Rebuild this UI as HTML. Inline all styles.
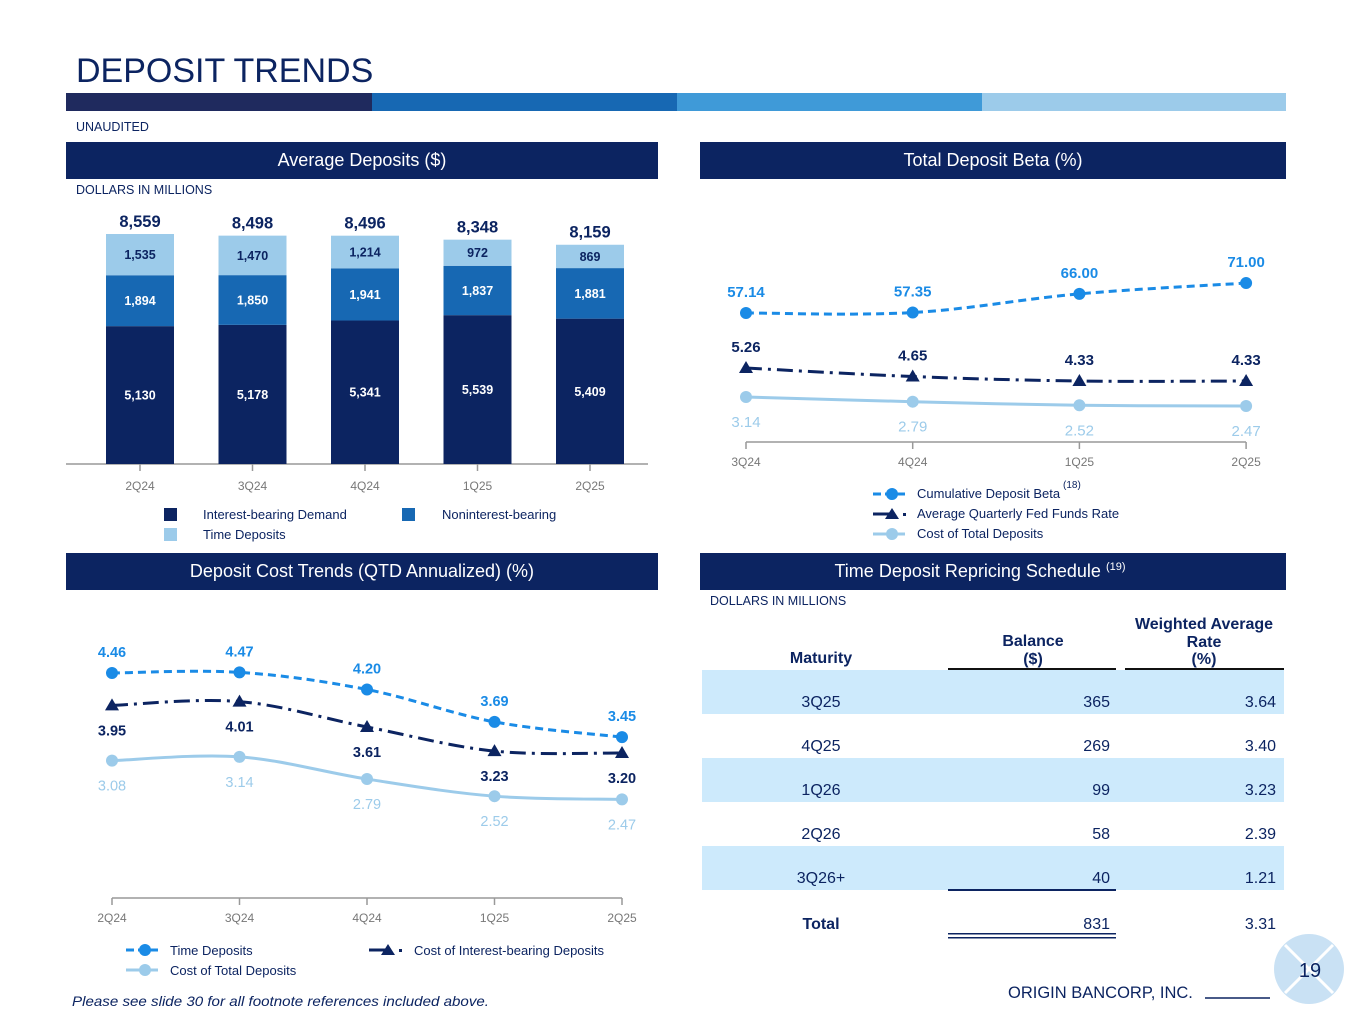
<!DOCTYPE html>
<html><head><meta charset="utf-8">
<style>
body{margin:0;background:#fff;}
svg{display:block;font-family:"Liberation Sans",Arial,sans-serif;}
</style></head>
<body>
<svg id="s" width="1365" height="1024" viewBox="0 0 1365 1024" xmlns="http://www.w3.org/2000/svg">
<text x="76" y="82" font-size="34" fill="#0c2461">DEPOSIT TRENDS</text>
<g>
<rect x="66" y="93" width="306" height="18" fill="#1f2a5e"/>
<rect x="372" y="93" width="305" height="18" fill="#1768b3"/>
<rect x="677" y="93" width="305" height="18" fill="#3f9ad8"/>
<rect x="982" y="93" width="304" height="18" fill="#9ccbea"/>
</g>
<text x="76" y="131" font-size="12.5" fill="#0c2461">UNAUDITED</text>

<rect x="66" y="142" width="592" height="37" fill="#0c2461"/>
<text x="362" y="166" font-size="18" fill="#fff" text-anchor="middle">Average Deposits ($)</text>
<rect x="700" y="142" width="586" height="37" fill="#0c2461"/>
<text x="993" y="166" font-size="18" fill="#fff" text-anchor="middle">Total Deposit Beta (%)</text>
<rect x="66" y="553" width="592" height="37" fill="#0c2461"/>
<text x="362" y="577" font-size="18" fill="#fff" text-anchor="middle">Deposit Cost Trends (QTD Annualized) (%)</text>
<rect x="700" y="553" width="586" height="37" fill="#0c2461"/>
<text x="980" y="577" font-size="18" fill="#fff" text-anchor="middle">Time Deposit Repricing Schedule <tspan font-size="11" dy="-7">(19)</tspan></text>

<text x="76" y="194" font-size="12.5" fill="#0c2461">DOLLARS IN MILLIONS</text>
<text x="710" y="605" font-size="12.5" fill="#0c2461">DOLLARS IN MILLIONS</text>

<g id="bars"></g>
<g id="beta"></g>
<g id="cost"></g>

<g font-size="13" fill="#0c2461">
<rect x="164" y="508" width="13" height="13" fill="#0c2461"/><text x="203" y="519">Interest-bearing Demand</text>
<rect x="402" y="508" width="13" height="13" fill="#1768b3"/><text x="442" y="519">Noninterest-bearing</text>
<rect x="164" y="528" width="13" height="13" fill="#9ccbea"/><text x="203" y="539">Time Deposits</text>
</g>
<g font-size="13" fill="#0c2461">
<line x1="873" y1="494" x2="905" y2="494" stroke="#1a8be6" stroke-width="3" stroke-dasharray="8,4"/><circle cx="892" cy="494" r="6" fill="#1a8be6"/>
<text x="917" y="498">Cumulative Deposit Beta</text><text x="1063" y="488" font-size="10">(18)</text>
<line x1="873" y1="514" x2="895" y2="514" stroke="#0c2461" stroke-width="3"/><polygon points="892,508 899,519 885,519" fill="#0c2461"/><rect x="903" y="513" width="3" height="3" fill="#0c2461"/>
<text x="917" y="518">Average Quarterly Fed Funds Rate</text>
<line x1="873" y1="534" x2="905" y2="534" stroke="#9ccbea" stroke-width="3"/><circle cx="892" cy="534" r="6" fill="#9ccbea"/>
<text x="917" y="538">Cost of Total Deposits</text>
</g>
<g font-size="13" fill="#0c2461">
<line x1="126" y1="950" x2="158" y2="950" stroke="#1a8be6" stroke-width="3" stroke-dasharray="8,4"/><circle cx="145" cy="950" r="6" fill="#1a8be6"/>
<text x="170" y="955">Time Deposits</text>
<line x1="369" y1="950" x2="391" y2="950" stroke="#0c2461" stroke-width="3"/><polygon points="388,944 395,955 381,955" fill="#0c2461"/><rect x="399" y="949" width="3" height="3" fill="#0c2461"/>
<text x="414" y="955">Cost of Interest-bearing Deposits</text>
<line x1="126" y1="970" x2="158" y2="970" stroke="#9ccbea" stroke-width="3"/><circle cx="145" cy="970" r="6" fill="#9ccbea"/>
<text x="170" y="975">Cost of Total Deposits</text>
</g>

<g fill="#0c2461" font-size="16">
<text x="821" y="663" text-anchor="middle" font-weight="bold">Maturity</text>
<text x="1033" y="646" text-anchor="middle" font-weight="bold">Balance</text>
<text x="1033" y="664" text-anchor="middle" font-weight="bold">($)</text>
<text x="1204" y="629" text-anchor="middle" font-weight="bold">Weighted Average</text>
<text x="1204" y="647" text-anchor="middle" font-weight="bold">Rate</text>
<text x="1204" y="664" text-anchor="middle" font-weight="bold">(%)</text>
<rect x="948" y="668" width="168" height="2" fill="#111"/>
<rect x="1125" y="668" width="159" height="2" fill="#111"/>
<g id="tbl"></g>
<rect x="948" y="889" width="168" height="2" fill="#0c2461"/>
<text x="821" y="929" text-anchor="middle" font-weight="bold">Total</text>
<text x="1110" y="929" text-anchor="end">831</text>
<text x="1276" y="929" text-anchor="end">3.31</text>
<rect x="948" y="933" width="168" height="1.5" fill="#0c2461"/>
<rect x="948" y="937" width="168" height="1.5" fill="#0c2461"/>
</g>

<text x="72" y="1006" font-size="14" font-style="italic" fill="#0c2461" textLength="417" lengthAdjust="spacingAndGlyphs">Please see slide 30 for all footnote references included above.</text>
<text x="1008" y="998" font-size="16.5" fill="#0c2461">ORIGIN BANCORP, INC.</text>
<line x1="1205" y1="998" x2="1270" y2="998" stroke="#0c2461" stroke-width="1.5"/>
<g>
<circle cx="1309" cy="969" r="35" fill="#c9e1f4"/>
<line x1="1285" y1="945" x2="1333" y2="993" stroke="#fff" stroke-width="3"/>
<line x1="1333" y1="945" x2="1285" y2="993" stroke="#fff" stroke-width="3"/>
<text x="1310" y="977" font-size="20" fill="#0c2461" text-anchor="middle">19</text>
</g>
</svg>
<script>
const NS="http://www.w3.org/2000/svg";
function mk(p,t,a,txt){const e=document.createElementNS(NS,t);for(const k in a)e.setAttribute(k,a[k]);if(txt!==undefined)e.textContent=txt;p.appendChild(e);return e;}
const fmt=v=>v.toLocaleString('en-US');

// ---- Average deposits
const barCats=["2Q24","3Q24","4Q24","1Q25","2Q25"];
const ibDemand=[5130,5178,5341,5539,5409];
const nonIB=[1894,1850,1941,1837,1881];
const timeDep=[1535,1470,1214,972,869];
const barTotals=[8559,8498,8496,8348,8159];
{
 const g=document.getElementById('bars');
 const base=464,k=230/8559,x0=140,dx=112.5,w=68;
 const X=i=>x0+i*dx, Y=v=>base-v*k;
 mk(g,'line',{x1:66,y1:base,x2:648,y2:base,stroke:'#999','stroke-width':1.5});
 barCats.forEach((c,i)=>{
  const segs=[[ibDemand[i],'#0c2461','#fff'],[nonIB[i],'#1768b3','#fff'],[timeDep[i],'#9ccbea','#0c2461']];
  let acc=0;
  segs.forEach(([v,col,tc],j)=>{
   const r=mk(g,'rect',{x:X(i)-w/2,y:Y(acc+v),width:w,height:v*k,fill:col});
   
   
   mk(g,'text',{x:X(i),y:Y(acc+v/2)+4.5,'text-anchor':'middle','font-size':12.5,'font-weight':'bold',fill:tc},fmt(v));
   acc+=v;
  });
  mk(g,'text',{x:X(i),y:Y(barTotals[i])-7,'text-anchor':'middle','font-size':16.5,'font-weight':'bold',fill:'#0c2461'},fmt(barTotals[i]));
  mk(g,'line',{x1:X(i),y1:base,x2:X(i),y2:base+7,stroke:'#999','stroke-width':1.5});
  mk(g,'text',{x:X(i),y:base+26,'text-anchor':'middle','font-size':12,fill:'#777'},c);
 });
}

function curve(pts){let d='M'+pts[0][0]+','+pts[0][1];for(let i=0;i<pts.length-1;i++){const p0=pts[i-1]||pts[i],p1=pts[i],p2=pts[i+1],p3=pts[i+2]||p2;const t=0.17;d+=' C'+(p1[0]+(p2[0]-p0[0])*t)+','+(p1[1]+(p2[1]-p0[1])*t)+' '+(p2[0]-(p3[0]-p1[0])*t)+','+(p2[1]-(p3[1]-p1[1])*t)+' '+p2[0]+','+p2[1];}return d;}
function tri(g,x,y,c){mk(g,'polygon',{points:`${x},${y-7} ${x+7},${y+5} ${x-7},${y+5}`,fill:c});}

// ---- Beta
const betaCats=["3Q24","4Q24","1Q25","2Q25"];
const betaCum=[57.14,57.35,66.00,71.00];
const fedFunds=[5.26,4.65,4.33,4.33];
const betaCost=[3.14,2.79,2.52,2.47];
{
 const g=document.getElementById('beta');
 const X=i=>746+i*166.7;
 const Yb=v=>313-(v-57.14)*2.16, Yf=v=>368-(v-5.26)*14, Yc=v=>397-(v-3.14)*13.4;
 mk(g,'line',{x1:746,y1:442,x2:1246,y2:442,stroke:'#999','stroke-width':1.5});
 betaCats.forEach((c,i)=>{mk(g,'line',{x1:X(i),y1:442,x2:X(i),y2:449,stroke:'#999','stroke-width':1.5});mk(g,'text',{x:X(i),y:466,'text-anchor':'middle','font-size':12,fill:'#777'},c);});
 const series=[[betaCum,Yb,'#1a8be6','8,5','circ',-16,'bold'],[fedFunds,Yf,'#0c2461','16,6,3,6','tri',-16,'bold'],[betaCost,Yc,'#9ccbea','','circ',30,'normal']];
 series.forEach(([vals,Y,col,dash,m,off,fw],si)=>{
  const pts=vals.map((v,i)=>[X(i),Y(v)]);
  const p=mk(g,'path',{d:curve(pts),fill:'none',stroke:col,'stroke-width':3,'stroke-dasharray':dash});
  
  
  pts.forEach(([x,y],i)=>{
   if(m==='circ')mk(g,'circle',{cx:x,cy:y,r:6,fill:col});else tri(g,x,y,col);
   mk(g,'text',{x:x,y:y+off,'text-anchor':'middle','font-size':15,'font-weight':fw,fill:col},vals[i].toFixed(2));
  });
 });
}

// ---- Cost trends
const costCats=["2Q24","3Q24","4Q24","1Q25","2Q25"];
const costTime=[4.46,4.47,4.20,3.69,3.45];
const costIB=[3.95,4.01,3.61,3.23,3.20];
const costTotal=[3.08,3.14,2.79,2.52,2.47];
{
 const g=document.getElementById('cost');
 const X=i=>112+i*127.5, Y=v=>673+(4.46-v)*63.5;
 mk(g,'line',{x1:112,y1:898,x2:622,y2:898,stroke:'#999','stroke-width':1.5});
 costCats.forEach((c,i)=>{mk(g,'line',{x1:X(i),y1:898,x2:X(i),y2:905,stroke:'#999','stroke-width':1.5});mk(g,'text',{x:X(i),y:922,'text-anchor':'middle','font-size':12,fill:'#777'},c);});
 const series=[[costTime,'#1a8be6','8,5','circ',-16,'bold'],[costIB,'#0c2461','16,6,3,6','tri',30,'bold'],[costTotal,'#9ccbea','','circ',30,'normal']];
 series.forEach(([vals,col,dash,m,off,fw],si)=>{
  const pts=vals.map((v,i)=>[X(i),Y(v)]);
  const p=mk(g,'path',{d:curve(pts),fill:'none',stroke:col,'stroke-width':3,'stroke-dasharray':dash});
  
  
  pts.forEach(([x,y],i)=>{
   if(m==='circ')mk(g,'circle',{cx:x,cy:y,r:6,fill:col});else tri(g,x,y,col);
   mk(g,'text',{x:x,y:y+off,'text-anchor':'middle','font-size':14.5,'font-weight':fw,fill:col},vals[i].toFixed(2));
  });
 });
}

// ---- Table
const tblMat=["3Q25","4Q25","1Q26","2Q26","3Q26+"];
const tblBal=[365,269,99,58,40];
const tblRate=[3.64,3.40,3.23,2.39,1.21];
{
 const g=document.getElementById('tbl');
 tblMat.forEach((m,i)=>{
  const y0=670+i*44;
  if(i%2===0){const r=mk(g,'rect',{x:702,y:y0,width:582,height:44,fill:'#cdeafc'});}
  mk(g,'text',{x:821,y:y0+37,'text-anchor':'middle'},m);
  mk(g,'text',{x:1110,y:y0+37,'text-anchor':'end'},String(tblBal[i]));
  mk(g,'text',{x:1276,y:y0+37,'text-anchor':'end'},tblRate[i].toFixed(2));
 });
}
</script>
</body></html>
